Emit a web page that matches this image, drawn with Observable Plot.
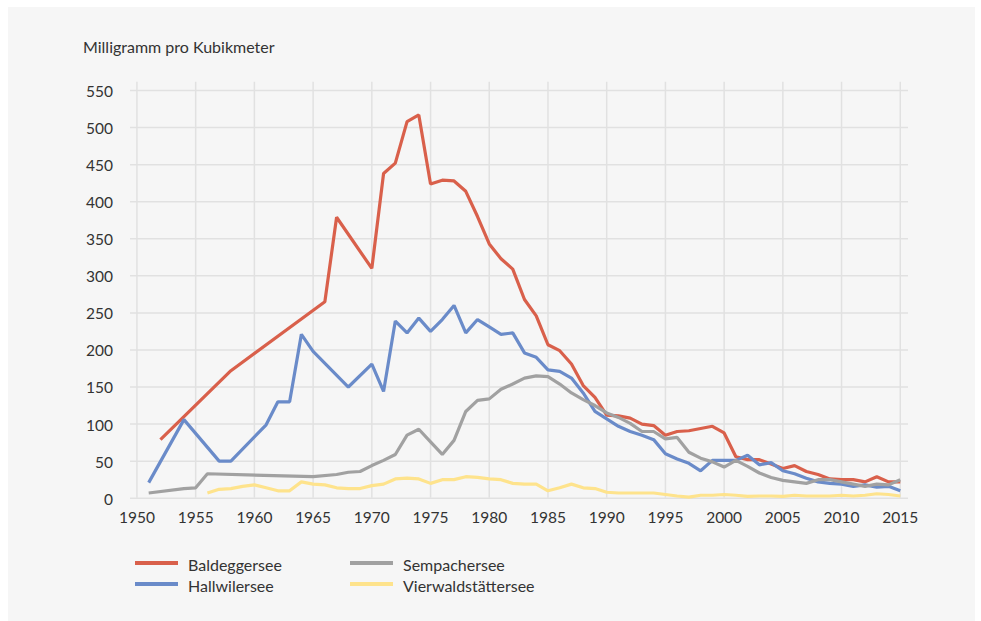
<!DOCTYPE html>
<html>
<head>
<meta charset="utf-8">
<script src="https://cdn.jsdelivr.net/npm/d3@7"></script>
<script src="https://cdn.jsdelivr.net/npm/@observablehq/plot@0.6"></script>
<style>
  html, body { margin: 0; padding: 0; background: #ffffff; }
  body { width: 981px; height: 621px; position: relative; overflow: hidden; font-family: Lato, "Open Sans", sans-serif; color: #333; }
  #panel { position: absolute; left: 8px; top: 7px; width: 967px; height: 614px; background: #f6f6f6; }
  #title { position: absolute; left: 83px; top: 37px; font-size: 16px; line-height: 20px; color: #333; white-space: nowrap; }
  #chart { position: absolute; left: 0; top: 60px; }
  .leg { position: absolute; font-size: 16px; line-height: 20px; color: #333; white-space: nowrap; }
  .sw { position: absolute; width: 43px; height: 4px; }
</style>
</head>
<body>
<div id="panel"></div>
<div id="title">Milligramm pro Kubikmeter</div>
<div id="chart"></div>
<div id="legend"></div>
<script>
const lakes = ["Baldeggersee", "Hallwilersee", "Sempachersee", "Vierwaldstättersee"];
const colors = ["#d9604b", "#6a8bc9", "#a1a1a1", "#fee38c"];

const baldeggYears = [1952, 1958, 1966, 1967, 1970].concat(d3.range(1971, 2016));
const baldeggValues = [79, 172, 265, 379, 310,
  438, 452, 508, 517, 424, 429, 428, 414, 380, 343,
  323, 309, 268, 246, 207, 199, 181, 152, 136, 112,
  111, 108, 100, 98, 85, 90, 91, 94, 97, 88,
  56, 52, 52, 46, 40, 44, 36, 32, 26, 25,
  25, 22, 29, 22, 22];

const hallwilYears = [1951, 1954, 1957, 1958, 1961, 1962, 1963, 1964, 1965, 1968, 1970].concat(d3.range(1971, 2016));
const hallwilValues = [21, 106, 50, 50, 99, 130, 130, 221, 198, 150, 181,
  144, 239, 223, 243, 225, 241, 260, 223, 241, 231,
  221, 223, 196, 190, 173, 171, 162, 142, 117, 107,
  97, 90, 85, 79, 60, 53, 47, 37, 51, 51,
  51, 58, 45, 48, 37, 33, 27, 22, 20, 19,
  16, 18, 15, 16, 10];

const sempachYears = [1951, 1954, 1955, 1956, 1965, 1967, 1968, 1969].concat(d3.range(1970, 2016));
const sempachValues = [7, 13, 14, 33, 29, 32, 35, 36,
  44, 51, 59, 85, 93, 76, 59, 78, 117, 132,
  134, 147, 154, 162, 165, 164, 154, 142, 133, 125,
  115, 109, 101, 90, 90, 80, 82, 62, 54, 49,
  42, 51, 43, 34, 28, 24, 22, 20, 25, 25,
  22, 19, 16, 19, 18, 25];

const vierwaldYears = d3.range(1956, 2016);
const vierwaldValues = [7, 12, 13, 16, 18, 14, 10, 10, 22, 19,
  18, 14, 13, 13, 17, 19, 26, 27, 26, 20,
  25, 25, 29, 28, 26, 25, 20, 19, 19, 10,
  14, 19, 14, 13, 8, 7, 7, 7, 7, 5,
  3, 1.5, 4, 4, 5, 4, 2.5, 3, 3, 2.5,
  4, 3, 3, 3, 4, 3, 4, 6, 5, 3];

const xTicks = d3.range(1950, 2016, 5);
const yTicks = d3.range(0, 551, 50);

function rows(lake, years, values) {
  return years.map((year, i) => ({lake, year, value: values[i]}));
}
const data = [
  ...rows(lakes[0], baldeggYears, baldeggValues),
  ...rows(lakes[1], hallwilYears, hallwilValues),
  ...rows(lakes[2], sempachYears, sempachValues),
  ...rows(lakes[3], vierwaldYears, vierwaldValues)
];

const gridColor = "#e1e1e1";
const chart = Plot.plot({
  width: 981,
  height: 480,
  marginLeft: 130,
  marginRight: 73,
  marginTop: 21.7,
  marginBottom: 42.3,
  style: {background: "transparent", fontFamily: "Lato, 'Open Sans', sans-serif", color: "#333"},
  x: {domain: [1949.45, 2015.7], label: null},
  y: {domain: [0, 561.2], label: null},
  color: {domain: lakes, range: colors},
  marks: [
    Plot.gridX(xTicks, {stroke: gridColor, strokeOpacity: 1, strokeWidth: 1.5}),
    Plot.gridY(yTicks, {stroke: gridColor, strokeOpacity: 1, strokeWidth: 1.5}),
    Plot.axisX(xTicks, {tickSize: 0, tickPadding: 14, tickFormat: d => String(d), fontSize: 15.5, fill: "#333", label: null}),
    Plot.axisY(yTicks, {tickSize: 0, tickPadding: 17.5, fontSize: 15.5, fill: "#333", dy: 1.5, label: null}),
    Plot.line(data, {x: "year", y: "value", z: "lake", stroke: "lake", strokeWidth: 3.2, strokeLinejoin: "miter", strokeLinecap: "butt"})
  ]
});
document.getElementById("chart").appendChild(chart);

const legend = document.getElementById("legend");
const legendPos = [
  {sx: 135, ly: 563, tx: 188},
  {sx: 135, ly: 584, tx: 188},
  {sx: 350, ly: 563, tx: 403},
  {sx: 350, ly: 584, tx: 403}
];
lakes.forEach((lake, i) => {
  const p = legendPos[i];
  const sw = document.createElement("div");
  sw.className = "sw";
  sw.style.left = p.sx + "px";
  sw.style.top = (p.ly - 2) + "px";
  sw.style.background = colors[i];
  legend.appendChild(sw);
  const t = document.createElement("div");
  t.className = "leg";
  t.style.left = p.tx + "px";
  t.style.top = (p.ly - 8) + "px";
  t.textContent = lake;
  legend.appendChild(t);
});
</script>
</body>
</html>
